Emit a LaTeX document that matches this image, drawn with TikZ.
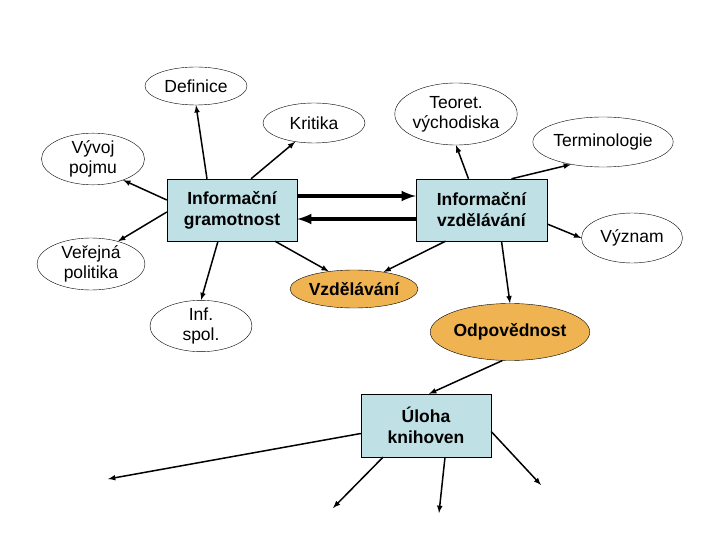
\documentclass[tikz,border=0pt]{standalone}
\usepackage{fontspec}
\setmainfont{Liberation Sans}
\usetikzlibrary{shapes,arrows,positioning}
\definecolor{boxblue}{HTML}{BFE1E6}
\definecolor{ovalorange}{HTML}{EFB451}
\tikzset{
	topic/.style={draw,ellipse,inner sep=0pt,align=center,font=\fontsize{17.5}{20}\selectfont},
	hot/.style={topic,fill=ovalorange,font=\fontsize{17.5}{20}\selectfont\bfseries},
	core/.style={draw,rectangle,fill=boxblue,align=center,inner sep=0pt,font=\fontsize{17.5}{21}\selectfont\bfseries},
	link/.style={-latex,line width=1.5pt},
	thick link/.style={-latex,line width=3.8pt}
}
\begin{document}
\begin{tikzpicture}[x=1pt,y=-1pt]
				\useasboundingbox (0,0) rectangle (720,540);
				% central boxes
				\node[core,minimum width=130pt,minimum height=62pt] (gram) at (232,210) {Informační\\gramotnost};
				\node[core,minimum width=131pt,minimum height=62pt] (vzdel) at (481.5,210) {Informační\\vzdělávání};
				\node[core,minimum width=130pt,minimum height=63pt] (uloha) at (426,425.5) {Úloha\\knihoven};
				% ovals
				\node[topic,minimum width=102pt,minimum height=38pt] (def) at (196,86) {Definice};
				\node[topic,minimum width=102pt,minimum height=40pt] (krit) at (314,123) {Kritika};
				\node[topic,minimum width=103pt,minimum height=48pt] (vyvoj) at (93,159) {Vývoj\\pojmu};
				\node[topic,minimum width=108pt,minimum height=52pt] (polit) at (91,264) {Veřejná\\politika};
				\node[topic,minimum width=102pt,minimum height=47pt] (spol) at (201,326) {Inf.\\spol.};
				\node[topic,minimum width=103pt,minimum height=62pt] (teor) at (456,114) {Teoret.\\východiska};
				\node[topic,minimum width=113pt,minimum height=50pt] (term) at (603,142) {Terminologie};
				\node[topic,minimum width=101pt,minimum height=50pt] (vyzn) at (632,238) {Význam};
				\node[hot,minimum width=102pt,minimum height=38pt] (vzd) at (354,289) {Vzdělávání};
				\node[hot,minimum width=117pt,minimum height=57pt] (odp) at (510,332) {Odpovědnost};
				% loose ends
				\coordinate (e1) at (108,479);
				\coordinate (e2) at (333,508);
				\coordinate (e3) at (439,513);
				\coordinate (e4) at (541,485);
				% links
				\draw[link] ([xshift=-25pt]gram.north) -- (def.south);
				\draw[link] ([xshift=19pt]gram.north) -- (krit.225);
				\draw[link] ([yshift=10pt]gram.west) -- (vyvoj.-35);
				\draw[link] ([yshift=-2pt]gram.west) -- (polit.40);
				\draw[link] ([xshift=-14pt]gram.south) -- (spol.north);
				\draw[link] ([xshift=43pt]gram.south) -- (vzd.145);
				\draw[thick link] ([yshift=14pt]gram.east) -- ([yshift=14pt]vzdel.west);
				\draw[thick link] ([yshift=-9pt]vzdel.west) -- ([yshift=-9pt]gram.east);
				\draw[link] ([xshift=-13pt]vzdel.north) -- (teor.south);
				\draw[link] ([xshift=30pt]vzdel.north) -- (term.215);
				\draw[link] ([yshift=-14pt]vzdel.east) -- (vyzn.west);
				\draw[link] ([xshift=-36pt]vzdel.south) -- (vzd.30);
				\draw[link] ([xshift=20pt]vzdel.south) -- (odp.north);
				\draw[link] (odp.255) -- ([xshift=3pt]uloha.north);
				\draw[link] ([yshift=-8pt]uloha.west) -- (e1);
				\draw[link] ([yshift=-6pt]uloha.east) -- (e4);
				\draw[link] ([xshift=-43pt]uloha.south) -- (e2);
				\draw[link] ([xshift=19pt]uloha.south) -- (e3);
\end{tikzpicture}
\end{document}
